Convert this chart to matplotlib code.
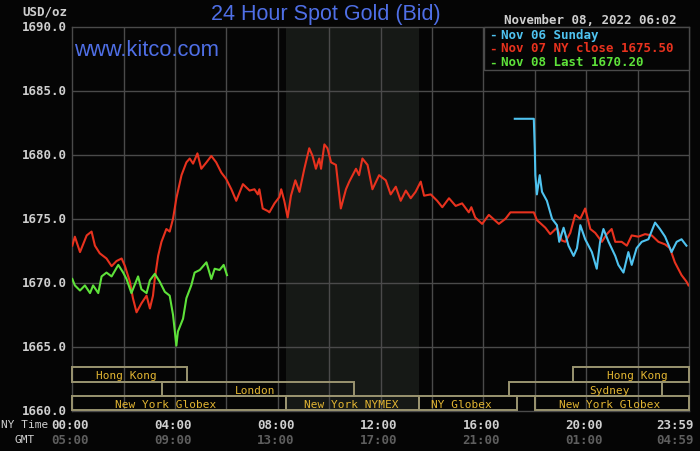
import matplotlib
matplotlib.use("Agg")
import matplotlib.pyplot as plt
import matplotlib.transforms as mtransforms
from matplotlib.patches import Rectangle

# ---------------- data ----------------
red_hours = [0.0, 0.10, 0.30, 0.56, 0.75, 0.88, 1.07, 1.33, 1.53, 1.72, 1.92, 2.05, 2.24, 2.36, 2.50,
             2.69, 2.89, 3.02, 3.14, 3.21, 3.34, 3.47, 3.66, 3.79, 3.92, 4.05, 4.25, 4.44, 4.57, 4.70,
             4.87, 5.02, 5.22, 5.41, 5.60, 5.80, 5.99, 6.19, 6.38, 6.64, 6.90, 7.09, 7.22, 7.28, 7.41,
             7.61, 7.67, 7.87, 8.06, 8.13, 8.25, 8.38, 8.51, 8.68, 8.84, 9.03, 9.22, 9.35, 9.48, 9.61,
             9.68, 9.81, 9.93, 10.07, 10.26, 10.45, 10.65, 10.78, 11.04, 11.16, 11.29, 11.49, 11.68,
             11.94, 12.20, 12.39, 12.59, 12.78, 12.98, 13.17, 13.36, 13.56, 13.69, 13.95, 14.20, 14.40,
             14.66, 14.92, 15.17, 15.43, 15.53, 15.68, 15.95, 16.21, 16.60, 16.86, 17.05, 17.96, 18.08,
             18.41, 18.60, 18.86, 19.05, 19.19, 19.38, 19.57, 19.77, 19.96, 20.16, 20.35, 20.61, 20.80,
             20.99, 21.13, 21.38, 21.58, 21.77, 22.03, 22.29, 22.55, 22.81, 23.07, 23.26, 23.45, 23.71,
             23.90, 23.98]
red_prices = [1672.9, 1673.6, 1672.4, 1673.7, 1674.0, 1672.9, 1672.3, 1671.9, 1671.3, 1671.7, 1671.9,
              1671.3, 1670.1, 1668.8, 1667.7, 1668.4, 1669.0, 1668.0, 1669.0, 1670.3, 1672.1, 1673.2,
              1674.2, 1674.0, 1675.0, 1676.6, 1678.4, 1679.4, 1679.7, 1679.3, 1680.1, 1678.9, 1679.4,
              1679.9, 1679.4, 1678.6, 1678.1, 1677.3, 1676.4, 1677.7, 1677.2, 1677.3, 1676.9, 1677.3,
              1675.8, 1675.6, 1675.5, 1676.2, 1676.7, 1677.3, 1676.4, 1675.1, 1676.8, 1678.0, 1677.1,
              1678.9, 1680.5, 1679.9, 1678.9, 1679.7, 1678.9, 1680.8, 1680.5, 1679.4, 1679.2, 1675.8,
              1677.3, 1677.9, 1678.9, 1678.4, 1679.7, 1679.2, 1677.3, 1678.4, 1678.0, 1676.9, 1677.5,
              1676.4, 1677.2, 1676.6, 1677.1, 1677.9, 1676.8, 1676.9, 1676.4, 1675.9, 1676.6, 1676.0,
              1676.2, 1675.5, 1675.9, 1675.1, 1674.6, 1675.3, 1674.6, 1675.0, 1675.5, 1675.5, 1674.9,
              1674.3, 1673.8, 1674.3, 1673.3, 1673.2, 1673.9, 1675.3, 1675.0, 1675.8, 1674.2, 1673.9,
              1673.2, 1673.8, 1674.2, 1673.2, 1673.2, 1672.9, 1673.7, 1673.6, 1673.8, 1673.7, 1673.2,
              1673.0, 1672.7, 1671.6, 1670.6, 1670.1, 1669.8]

cyan_hours = [17.22, 17.96, 18.00, 18.02, 18.08, 18.19, 18.28, 18.47, 18.67, 18.86, 18.95, 19.12, 19.31,
              19.51, 19.64, 19.77, 19.96, 20.22, 20.41, 20.54, 20.67, 20.87, 21.13, 21.25, 21.45, 21.64,
              21.77, 21.96, 22.16, 22.42, 22.68, 22.87, 23.07, 23.32, 23.52, 23.71, 23.90]
cyan_prices = [1682.8, 1682.8, 1680.3, 1678.4, 1676.9, 1678.4, 1677.1, 1676.4, 1675.0, 1674.5, 1673.2,
               1674.3, 1672.9, 1672.1, 1672.7, 1674.5, 1673.4, 1672.4, 1671.1, 1673.2, 1674.2, 1673.2,
               1672.1, 1671.4, 1670.8, 1672.4, 1671.4, 1672.7, 1673.2, 1673.4, 1674.7, 1674.2, 1673.6,
               1672.4, 1673.2, 1673.4, 1672.9]

green_hours = [0.0, 0.10, 0.30, 0.49, 0.69, 0.81, 1.01, 1.14, 1.33, 1.53, 1.79, 1.98, 2.11, 2.30, 2.56,
               2.69, 2.89, 3.02, 3.21, 3.40, 3.60, 3.79, 3.92, 4.05, 4.11, 4.31, 4.44, 4.63, 4.76, 4.96,
               5.22, 5.41, 5.54, 5.73, 5.89, 6.02]
green_prices = [1670.3, 1669.8, 1669.4, 1669.8, 1669.2, 1669.8, 1669.2, 1670.5, 1670.8, 1670.5, 1671.4,
                1670.8, 1670.3, 1669.2, 1670.5, 1669.5, 1669.2, 1670.2, 1670.7, 1670.1, 1669.3, 1669.0,
                1667.5, 1665.1, 1666.2, 1667.2, 1668.8, 1669.8, 1670.8, 1671.0, 1671.6, 1670.3, 1671.1,
                1671.0, 1671.4, 1670.6]

legend_labels = ["Nov 06 Sunday", "Nov 07 NY close 1675.50", "Nov 08 Last 1670.20"]
y_ticks = [1660.0, 1665.0, 1670.0, 1675.0, 1680.0, 1685.0, 1690.0]
x_tick_pos = [0, 4, 8, 12, 16, 20, 23.983]
ny_labels = ["00:00", "04:00", "08:00", "12:00", "16:00", "20:00", "23:59"]
gmt_labels = ["05:00", "09:00", "13:00", "17:00", "21:00", "01:00", "04:59"]

# sessions: (label, start hour, end hour, row, label centre hour)  row 0 = top
sessions = [("Hong Kong", 0.0, 4.47, 0, 2.12), ("Hong Kong", 19.47, 24.0, 0, 21.99),
            ("London", 3.48, 10.95, 1, 7.13), ("Sydney", 17.0, 22.95, 1, 20.90),
            ("New York Globex", 0.0, 8.33, 2, 3.64), ("New York NYMEX", 8.33, 13.5, 2, 10.85),
            ("NY Globex", 13.5, 17.3, 2, 15.15), ("New York Globex", 18.0, 24.0, 2, 20.90)]
nymex_span = (8.33, 13.5)

# ---------------- style ----------------
BG = "#050505"
GRID = "#4a4a4a"
RED = "#e8321e"
CYAN = "#4fc3f0"
GREEN = "#5ee23a"
TXT = "#cfcfcf"
GOLD = "#e2b532"
BOXC = "#9a9470"
BLUE = "#4f6fe6"
MONO = "DejaVu Sans Mono"

fig = plt.figure(figsize=(7.0, 4.52), dpi=100, facecolor=BG)
ax = fig.add_axes([72.3 / 700, 1 - 412 / 452, (689 - 72.3) / 700, (412 - 27.5) / 452])
ax.set_facecolor(BG)
ax.set_xlim(0, 24)
ax.set_ylim(1660, 1690)

ax.axvspan(nymex_span[0], nymex_span[1], color="#161916", zorder=0, lw=0)

for h in range(2, 24, 2):
    ax.axvline(h, color=GRID, lw=1.0, zorder=1)
for yv in y_ticks[1:-1]:
    ax.axhline(yv, color=GRID, lw=1.0, zorder=1)
for s in ax.spines.values():
    s.set_color(GRID)
    s.set_linewidth(1.0)

ax.set_xticks([])
ax.set_yticks([])

ax.plot(red_hours, red_prices, color=RED, lw=1.5, zorder=4)
ax.plot(cyan_hours, cyan_prices, color=CYAN, lw=1.5, zorder=5)
ax.plot(green_hours, green_prices, color=GREEN, lw=1.5, zorder=6)

# session boxes
trans = mtransforms.blended_transform_factory(ax.transData, ax.transAxes)
row_y = [(0.0754, 0.1144), (0.039, 0.0754), (0.0026, 0.039)]
for name, x0, x1, r, xc in sessions:
    y0, y1 = row_y[r]
    ax.add_patch(Rectangle((x0, y0), x1 - x0, y1 - y0, transform=trans, fill=False,
                           edgecolor=BOXC, lw=1.4, zorder=3, clip_on=False))
    ax.text(xc, (y0 + y1) / 2 - 0.002, name, transform=trans, ha="center", va="center",
            color=GOLD, fontsize=8, family=MONO, zorder=7)

# legend box
leg = Rectangle((484 / 700, 1 - 71 / 452), (689 - 484) / 700, (71 - 27.5) / 452, transform=fig.transFigure,
                facecolor=BG, edgecolor=GRID, lw=1.0, zorder=8)
fig.patches.append(leg)
for i, (lab, col) in enumerate(zip(legend_labels, [CYAN, RED, GREEN])):
    yy = 1 - (35 + 14 * i) / 452
    fig.text(489 / 700, yy, "-", color=col, fontsize=9, family=MONO, weight="bold", va="center", zorder=9)
    fig.text(501 / 700, yy, lab, color=col, fontsize=9, family=MONO, weight="bold", va="center", zorder=9)

# y labels
for yv in y_ticks:
    ax.text(-0.009, (yv - 1660) / 30, f"{yv:.1f}", transform=ax.transAxes, ha="right", va="center",
            color=TXT, fontsize=9, family=MONO, weight="bold")
fig.text(67 / 700, 1 - 12 / 452, "USD/oz", color=TXT, fontsize=9, family=MONO, weight="bold",
         ha="right", va="center")

# x labels
for xp, a, b in zip(x_tick_pos, ny_labels, gmt_labels):
    xd = min(xp, 23.45) if xp > 23 else xp - 0.08
    ax.text(xd, -0.035, a, transform=trans, ha="center", va="center", color=TXT, fontsize=9,
            family=MONO, weight="bold")
    ax.text(xd, -0.074, b, transform=trans, ha="center", va="center", color="#5e5e5e", fontsize=9,
            family=MONO, weight="bold")
fig.text(48 / 700, 1 - 425 / 452, "NY Time", color=TXT, fontsize=8, family=MONO, ha="right", va="center")
fig.text(25 / 700, 1 - 440 / 452, "GMT", color=TXT, fontsize=8, family=MONO, ha="center", va="center")

# titles
fig.text(326 / 700, 1 - 14.5 / 452, "24 Hour Spot Gold (Bid)", color=BLUE, fontsize=15.5,
         family="Liberation Sans", ha="center", va="center")
fig.text(74 / 700, 1 - 51 / 452, "www.kitco.com", color=BLUE, fontsize=15.8,
         family="Liberation Sans", ha="left", va="center", zorder=10)
fig.text(677 / 700, 1 - 20 / 452, "November 08, 2022 06:02", color=TXT, fontsize=9, family=MONO,
         weight="bold", ha="right", va="center")

fig.savefig("out.png", dpi=100, facecolor=BG)
